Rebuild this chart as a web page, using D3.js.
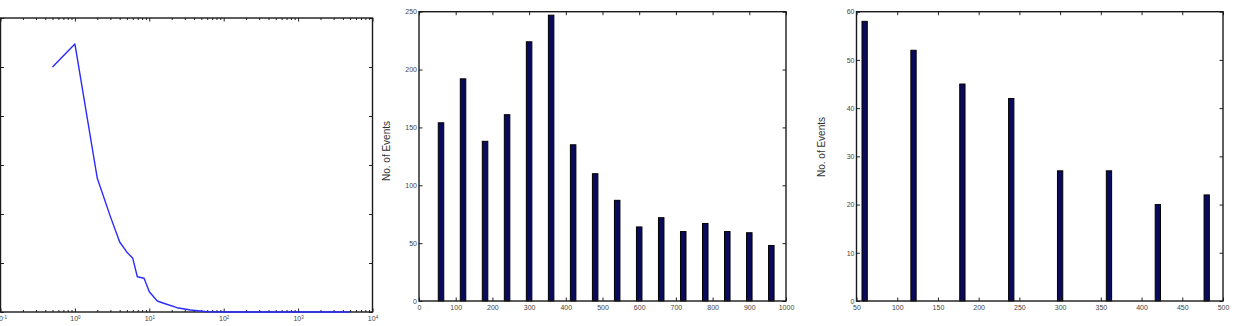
<!DOCTYPE html>
<html>
<head>
<meta charset="utf-8">
<script src="https://cdn.jsdelivr.net/npm/d3@7"></script>
<style>
  body { margin: 0; background: #fff; }
  svg { display: block; font-family: "Liberation Sans", Arial, sans-serif; }
  .tick text { fill: #444; }
  .tick line { stroke: #222; }
</style>
</head>
<body>
<div class="container"></div>
<script>
// left panel: distribution on a log x axis
const distX = [0.5, 1, 2, 3, 4, 5, 6, 6.9, 8.5, 10, 12.8, 15.6, 23.6, 35.6, 60, 100, 1000, 5000];
const distY = [0.25, 0.2735, 0.1364, 0.0973, 0.0714, 0.061, 0.0548, 0.036, 0.0344, 0.0207, 0.0112, 0.0089, 0.0044, 0.002, 0.0003, 0, 0, 0];
const distXTicks = [0.1, 1, 10, 100, 1000, 10000];
const distYTicks = [0, 0.05, 0.1, 0.15, 0.2, 0.25, 0.3];

// middle panel
const midBins = [60, 120, 180, 240, 300, 360, 420, 480, 540, 600, 660, 720, 780, 840, 900, 960];
const midCounts = [154, 192, 138, 161, 224, 247, 135, 110, 87, 64, 72, 60, 67, 60, 59, 48];
const midXTicks = [0, 100, 200, 300, 400, 500, 600, 700, 800, 900, 1000];
const midYTicks = [0, 50, 100, 150, 200, 250];

// right panel
const rightBins = [60, 120, 180, 240, 300, 360, 420, 480];
const rightCounts = [58, 52, 45, 42, 27, 27, 20, 22];
const rightXTicks = [50, 100, 150, 200, 250, 300, 350, 400, 450, 500];
const rightYTicks = [0, 10, 20, 30, 40, 50, 60];

const w = 1233,
    h = 326,
    tk = 3.5;

const svg = d3.select('.container')
  .append('svg')
  .attr('width', w)
  .attr('height', h)
  .style('background', '#fff');

function frame(g, x, y, xTicks, yTicks, opts) {
  const [x0, x1] = x.range();
  const [y0, y1] = y.range();

  g.append('g')
    .attr('class', 'x-axis')
    .attr('transform', `translate(0,${y0})`)
    .call(d3.axisBottom(x).tickValues(xTicks).tickSizeInner(-tk).tickSizeOuter(0).tickPadding(4)
      .tickFormat(opts.xFormat || d3.format('d')))
    .call(a => a.select('.domain').remove())
    .style('font-size', '7px');

  g.append('g')
    .attr('transform', `translate(0,${y1})`)
    .call(d3.axisTop(x).tickValues(xTicks).tickSizeInner(-tk).tickSizeOuter(0).tickFormat(''))
    .call(a => a.select('.domain').remove());

  g.append('g')
    .attr('transform', `translate(${x0},0)`)
    .call(d3.axisLeft(y).tickValues(yTicks).tickSizeInner(-tk).tickSizeOuter(0).tickPadding(2)
      .tickFormat(opts.yLabels ? d3.format('d') : ''))
    .call(a => a.select('.domain').remove())
    .style('font-size', '7px');

  g.append('g')
    .attr('transform', `translate(${x1},0)`)
    .call(d3.axisRight(y).tickValues(yTicks).tickSizeInner(-tk).tickSizeOuter(0).tickFormat(''))
    .call(a => a.select('.domain').remove());

  g.append('rect')
    .attr('x', x0)
    .attr('y', y1)
    .attr('width', x1 - x0)
    .attr('height', y0 - y1)
    .attr('fill', 'none')
    .attr('stroke', '#1a1a1a')
    .attr('stroke-width', 1.4);

  if (opts.yTitle) {
    g.append('text')
      .attr('transform', `translate(${opts.yTitle[0]},${opts.yTitle[1]}) rotate(-90)`)
      .attr('text-anchor', 'middle')
      .attr('fill', '#333')
      .style('font-size', '10px')
      .text('No. of Events');
  }
}

// ---- left: log plot ----
const lx = d3.scaleLog().domain([0.1, 10000]).range([0.5, 372.5]);
const ly = d3.scaleLinear().domain([0, 0.3]).range([312, 18]);
const left = svg.append('g');

const minors = [];
distXTicks.slice(0, -1).forEach(d => { for (let k = 2; k < 10; k++) minors.push(d * k); });
left.append('g')
  .attr('transform', `translate(0,${ly(0)})`)
  .call(d3.axisBottom(lx).tickValues(minors).tickSizeInner(-2).tickSizeOuter(0).tickFormat(''))
  .call(a => a.select('.domain').remove());
left.append('g')
  .attr('transform', `translate(0,${ly(0.3)})`)
  .call(d3.axisTop(lx).tickValues(minors).tickSizeInner(-2).tickSizeOuter(0).tickFormat(''))
  .call(a => a.select('.domain').remove());

frame(left, lx, ly, distXTicks, distYTicks, { yLabels: false, xFormat: d => d });

// 10^n labels
left.select('.x-axis').selectAll('.tick text')
  .text(null)
  .each(function(d) {
    const t = d3.select(this);
    t.append('tspan').text('10');
    t.append('tspan')
      .attr('dy', '-0.45em')
      .style('font-size', '4.5px')
      .text(Math.round(Math.log10(d)));
  });

left.append('path')
  .datum(distX.map((v, i) => [v, distY[i]]))
  .attr('fill', 'none')
  .attr('stroke', '#2b2bff')
  .attr('stroke-width', 1.4)
  .attr('stroke-linejoin', 'round')
  .attr('d', d3.line().x(d => lx(d[0])).y(d => ly(d[1])));

// ---- middle: bars ----
const mx = d3.scaleLinear().domain([0, 1000]).range([419, 786]);
const my = d3.scaleLinear().domain([0, 250]).range([301, 11.7]);
const mid = svg.append('g');
const midBarW = 15;

mid.selectAll('rect.bar')
  .data(midBins)
  .enter()
  .append('rect')
  .attr('class', 'bar')
  .attr('x', d => mx(d - midBarW / 2))
  .attr('width', d => mx(midBarW) - mx(0))
  .attr('y', (d, i) => my(midCounts[i]))
  .attr('height', (d, i) => my(0) - my(midCounts[i]))
  .attr('fill', '#0a0a5c')
  .attr('stroke', '#000')
  .attr('stroke-width', 1);

frame(mid, mx, my, midXTicks, midYTicks, { yLabels: true, yTitle: [390, 151] });

// ---- right: bars ----
const rx = d3.scaleLinear().domain([50, 500]).range([856.5, 1223]);
const ry = d3.scaleLinear().domain([0, 60]).range([301, 11.7]);
const right = svg.append('g');
const rightBarW = 6.5;

right.selectAll('rect.bar')
  .data(rightBins)
  .enter()
  .append('rect')
  .attr('class', 'bar')
  .attr('x', d => rx(d - rightBarW / 2))
  .attr('width', d => rx(50 + rightBarW) - rx(50))
  .attr('y', (d, i) => ry(rightCounts[i]))
  .attr('height', (d, i) => ry(0) - ry(rightCounts[i]))
  .attr('fill', '#0a0a5c')
  .attr('stroke', '#000')
  .attr('stroke-width', 1);

frame(right, rx, ry, rightXTicks, rightYTicks, { yLabels: true, yTitle: [825, 147] });
</script>
</body>
</html>
